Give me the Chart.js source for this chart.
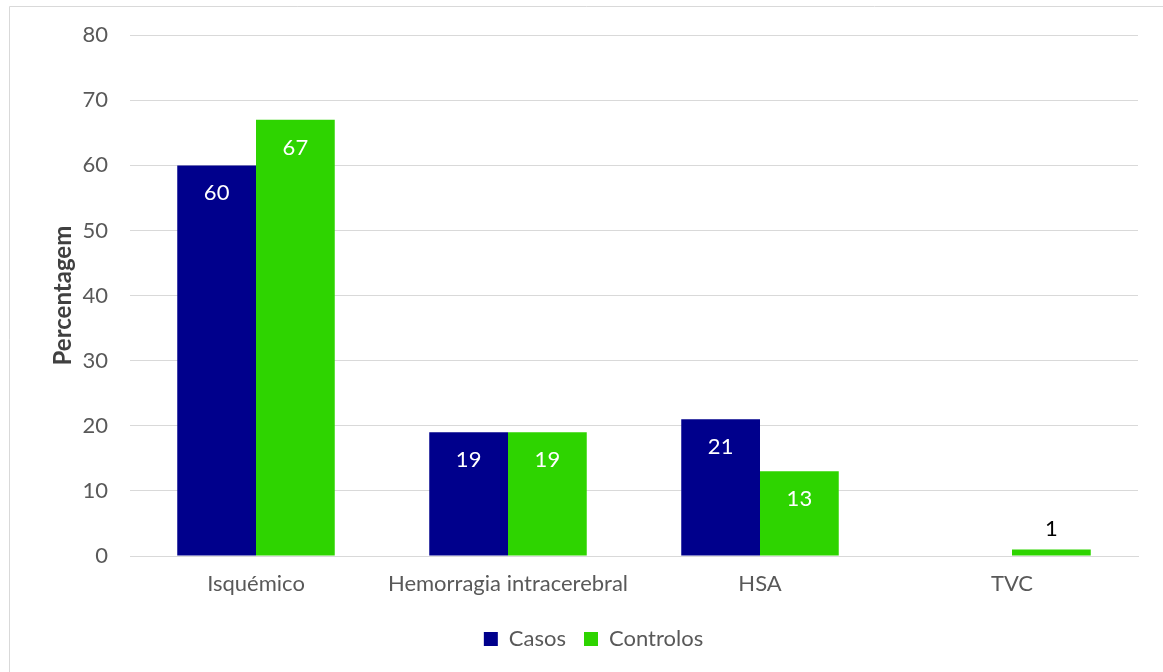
<!DOCTYPE html>
<html>
<head>
<meta charset="utf-8">
<script src="https://cdn.jsdelivr.net/npm/chart.js@4/dist/chart.umd.min.js"></script>
<style>
  html, body { margin: 0; padding: 0; background: #fff; }
  #wrap { position: relative; width: 1163px; height: 672px; }
</style>
</head>
<body>
<div id="wrap"><canvas id="c" width="1163" height="672"></canvas></div>
<script>
const categories = ['Isquémico', 'Hemorragia intracerebral', 'HSA', 'TVC'];
const casos = [60, 19, 21, 0];
const controlos = [67, 19, 13, 1];
const yTicks = [0, 10, 20, 30, 40, 50, 60, 70, 80];

const FONT = 'Lato, "Open Sans", sans-serif';
const FS = 22;
const NAVY = '#00008C';
const GREEN = '#2ED400';

// Frame line along the top and left edges
const framePlugin = {
  id: 'frame',
  beforeDraw(chart) {
    const ctx = chart.ctx;
    ctx.save();
    ctx.fillStyle = '#fff';
    ctx.fillRect(0, 0, chart.width, chart.height);
    ctx.strokeStyle = '#d9d9d9';
    ctx.lineWidth = 1;
    ctx.beginPath();
    ctx.moveTo(9.5, chart.height);
    ctx.lineTo(9.5, 6.5);
    ctx.lineTo(chart.width, 6.5);
    ctx.stroke();
    ctx.restore();
  }
};

// Value labels: inside the bar top when it is tall enough, above it otherwise
const valueLabels = {
  id: 'valueLabels',
  afterDatasetsDraw(chart) {
    const ctx = chart.ctx;
    ctx.save();
    ctx.font = FS + 'px ' + FONT;
    ctx.textAlign = 'center';
    ctx.textBaseline = 'middle';
    chart.data.datasets.forEach((ds, di) => {
      chart.getDatasetMeta(di).data.forEach((bar, i) => {
        const v = ds.data[i];
        if (!v) return;
        const h = bar.base - bar.y;
        if (h > 40) {
          ctx.fillStyle = '#ffffff';
          ctx.fillText(String(v), bar.x, bar.y + 28);
        } else {
          ctx.fillStyle = '#000000';
          ctx.fillText(String(v), bar.x, bar.y - 21);
        }
      });
    });
    ctx.restore();
  }
};

new Chart(document.getElementById('c'), {
  type: 'bar',
  data: {
    labels: categories,
    datasets: [
      { label: 'Casos', data: casos, backgroundColor: NAVY },
      { label: 'Controlos', data: controlos, backgroundColor: GREEN }
    ]
  },
  options: {
    responsive: false,
    animation: false,
    layout: { padding: { left: 49, right: 25, top: 35, bottom: 12 } },
    datasets: { bar: { categoryPercentage: 0.625, barPercentage: 1.0 } },
    plugins: {
      legend: {
        position: 'bottom',
        labels: {
          font: { family: FONT, size: FS },
          color: '#595959',
          boxWidth: 14,
          boxHeight: 14,
          padding: 18
        }
      },
      tooltip: { enabled: false }
    },
    scales: {
      x: {
        grid: { display: false, drawTicks: false },
        border: { display: true, color: '#d9d9d9' },
        ticks: { font: { family: FONT, size: FS }, color: '#595959', padding: 15, maxRotation: 0 },
        afterFit(scale) {
          const legendH = scale.chart.legend ? scale.chart.legend.height : 0;
          scale.height = 672 - 556 - 12 - legendH;
        }
      },
      y: {
        min: 0,
        max: 80,
        afterBuildTicks(scale) { scale.ticks = yTicks.map(v => ({ value: v })); },
        grid: { color: '#d9d9d9', drawTicks: false },
        border: { display: false },
        ticks: { font: { family: FONT, size: FS }, color: '#595959', padding: 22 },
        title: {
          display: true,
          text: 'Percentagem',
          font: { family: FONT, size: 24, weight: 'bold' },
          color: '#404040',
          padding: 0
        },
        afterFit(scale) { scale.width = 130 - 49; }
      }
    }
  },
  plugins: [framePlugin, valueLabels]
});
</script>
</body>
</html>
